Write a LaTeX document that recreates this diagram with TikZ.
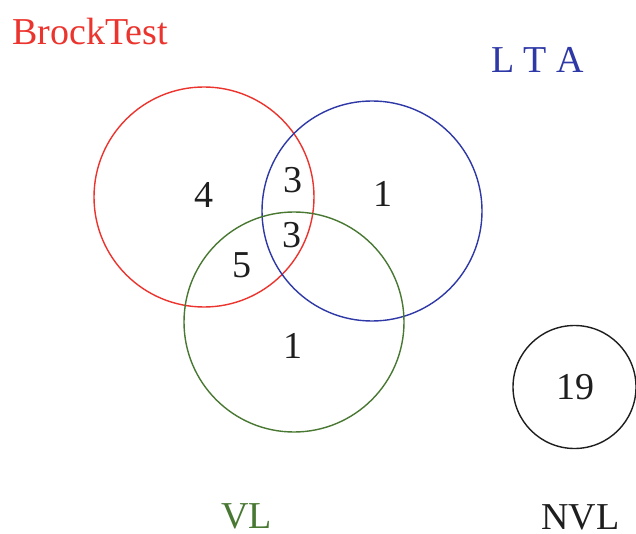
\documentclass[tikz,border=0pt]{standalone}
\usepackage{fontspec}
\setmainfont{Liberation Serif}
\definecolor{vred}{RGB}{236,52,46}
\definecolor{vblue}{RGB}{46,56,166}
\definecolor{vgreen}{RGB}{72,120,50}
\definecolor{vblack}{RGB}{30,30,30}
\begin{document}
\begin{tikzpicture}[x=1pt,y=-1pt,
  setcircle/.style={circle,draw,line width=1.4pt,inner sep=0pt,minimum size=220pt},
  num/.style={font=\fontsize{38}{38}\selectfont,text=vblack,inner sep=0pt},
  lab/.style={font=\fontsize{38}{38}\selectfont,inner sep=0pt,text depth=0pt,anchor=base west}]
\useasboundingbox (0,0) rectangle (636,534);
\fill[white] (0,0) rectangle (636,534);
\node[setcircle,draw=vred] (brock) at (204,197) {};
\node[setcircle,draw=vblue] (lta) at (372,211) {};
\node[setcircle,draw=vgreen] (vl) at (294,322) {};
\node[setcircle,draw=vblack,minimum size=123pt] (nvl) at (574.5,387) {};
\node[lab,text=vred] (tbrock) at (12,45) {BrockTest};
\node[lab,text=vblue] (tlta) at (491,73) {L T A};
\node[lab,text=vgreen] (tvl) at (221,528.5) {VL};
\node[lab,text=vblack] (tnvl) at (541,529) {NVL};
\node[num] (n4) at (204,195) {4};
\node[num] (n3a) at (292.5,180) {3};
\node[num] (n1a) at (383,194) {1};
\node[num] (n3b) at (292,235) {3};
\node[num] (n5) at (241.5,265.5) {5};
\node[num] (n1b) at (293,346) {1};
\node[num] (n19) at (575,387) {19};
\end{tikzpicture}
\end{document}
